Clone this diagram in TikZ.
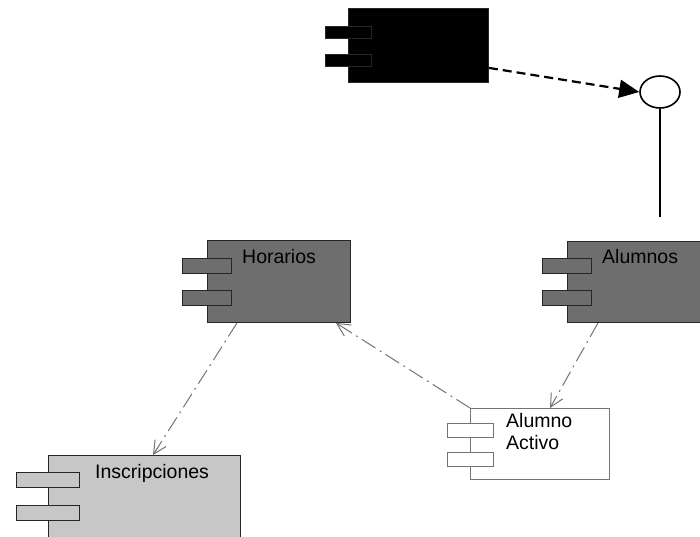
\documentclass[tikz,border=0pt]{standalone}
\usepackage{fontspec}
\setmainfont{Liberation Sans}
\usetikzlibrary{arrows.meta,shapes.geometric}

\begin{document}
\begin{tikzpicture}[
        x=1pt, y=-1pt,
        compbox/.style={draw=black!85, rectangle, inner sep=0pt, anchor=north west, line width=0.9pt},
        tabbox/.style={draw=black!85, rectangle, inner sep=0pt, minimum height=15pt, line width=0.9pt},
        comptext/.style={font=\fontsize{19.5}{22}\selectfont, inner sep=0pt, anchor=base west, align=left},
        deparrow/.style={draw=black!55, line width=1pt, dash pattern=on 16pt off 5pt on 2pt off 5pt, -{Straight Barb[length=13pt,width=13pt]}},
        realize/.style={line width=2.2pt, dash pattern=on 9pt off 5pt, -{Triangle[length=20pt,width=18pt]}}
    ]
    \clip (0,0) rectangle (700,536);

    % --- ROW 1: black component and interface ---
    \node[compbox, fill=black, minimum width=140pt, minimum height=74pt] (blk) at (348,8) {};
    \node[tabbox, fill=black, minimum width=46pt, minimum height=12pt] (blkT1) at ([yshift=-24.5pt]blk.north west) {};
    \node[tabbox, fill=black, minimum width=46pt, minimum height=12pt] (blkT2) at ([yshift=-52pt]blk.north west) {};
    \node[draw, ellipse, line width=1.6pt, inner sep=0pt, minimum width=40pt, minimum height=32pt, fill=white] (ifc) at (660,92) {};
    \coordinate (ifcEnd) at (660,217);

    % --- ROW 2: Horarios, Alumnos ---
    \node[compbox, fill=black!57, minimum width=143pt, minimum height=82pt] (hor) at (207,240) {};
    \node[tabbox, fill=black!57, minimum width=49pt] (horT1) at ([yshift=-25.5pt]hor.north west) {};
    \node[tabbox, fill=black!57, minimum width=49pt] (horT2) at ([yshift=-57.5pt]hor.north west) {};
    \node[comptext] (horTxt) at (242,263) {Horarios};

    \node[compbox, fill=black!57, minimum width=150pt, minimum height=81pt] (alu) at (567,241) {};
    \node[tabbox, fill=black!57, minimum width=49pt] (aluT1) at ([yshift=-24.5pt]alu.north west) {};
    \node[tabbox, fill=black!57, minimum width=49pt] (aluT2) at ([yshift=-56.5pt]alu.north west) {};
    \node[comptext] (aluTxt) at (602,263) {Alumnos};

    % --- ROW 3: Alumno Activo ---
    \node[compbox, draw=black!55, line width=0.6pt, fill=white, minimum width=139pt, minimum height=71pt] (act) at (470,408) {};
    \node[tabbox, draw=black!55, line width=0.6pt, fill=white, minimum width=46pt, minimum height=14pt] (actT1) at ([yshift=-22pt]act.north west) {};
    \node[tabbox, draw=black!55, line width=0.6pt, fill=white, minimum width=46pt, minimum height=14pt] (actT2) at ([yshift=-51.5pt]act.north west) {};
    \node[comptext] (actTxt) at (506,449) {Alumno\\Activo};

    % --- ROW 4: Inscripciones ---
    \node[compbox, fill=black!22, minimum width=192pt, minimum height=100pt] (ins) at (48,455) {};
    \node[tabbox, fill=black!22, minimum width=63pt] (insT1) at ([yshift=-24.5pt]ins.north west) {};
    \node[tabbox, fill=black!22, minimum width=63pt] (insT2) at ([yshift=-57.5pt]ins.north west) {};
    \node[comptext] (insTxt) at (95,478) {Inscripciones};

    % --- ARROWS ---
    \draw[realize] ([yshift=15pt]blk.south east) -- (ifc.west);
    \draw[line width=1.6pt] (ifc.south) -- (ifcEnd);
    \draw[deparrow] ([xshift=30pt]hor.south west) -- ([xshift=105pt]ins.north west);
    \draw[deparrow] (act.north west) -- ([xshift=-15pt]hor.south east);
    \draw[deparrow] ([xshift=31pt]alu.south west) -- ([xshift=80pt]act.north west);

\end{tikzpicture}
\end{document}
